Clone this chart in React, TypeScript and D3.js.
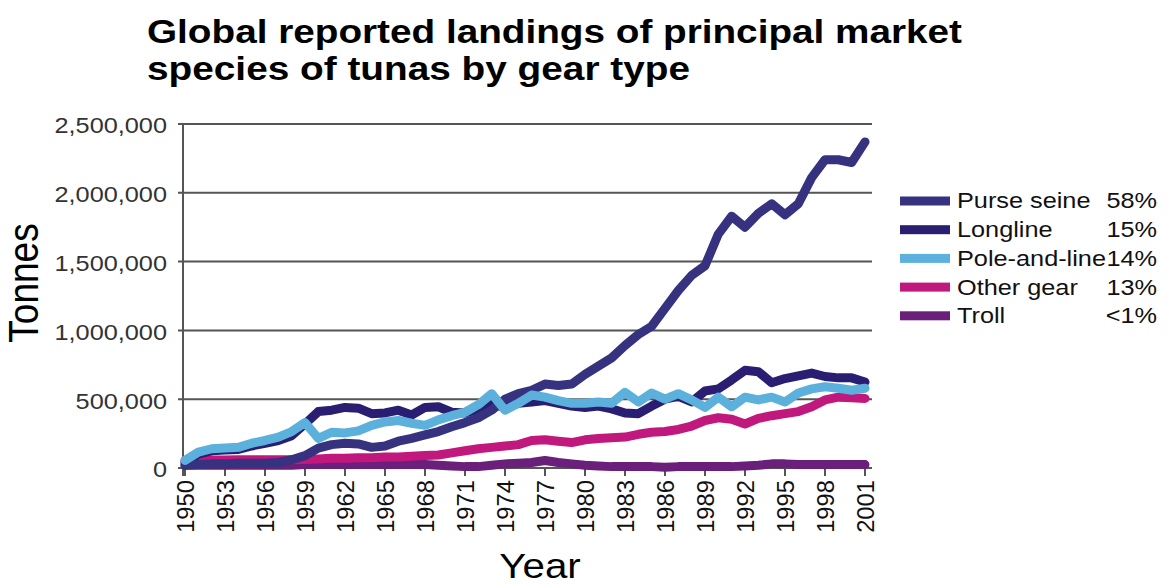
import React from 'react';
import * as d3 from 'd3';

const years = d3.range(1950, 2002);

// thousands of tonnes
const purseSeine = [20, 25, 30, 30, 35, 35, 35, 40, 60, 90, 145, 170, 180, 175, 150, 160, 195, 215, 240, 265, 300, 330, 365, 420, 500, 540, 565, 610, 600, 610, 680, 740, 800, 890, 970, 1030, 1160, 1290, 1400, 1470, 1700, 1830, 1750, 1850, 1920, 1840, 1920, 2110, 2240, 2240, 2220, 2370];
const longline = [40, 100, 125, 130, 135, 160, 180, 200, 235, 320, 410, 420, 440, 435, 395, 400, 420, 385, 440, 445, 405, 400, 425, 465, 440, 470, 480, 490, 470, 450, 440, 450, 430, 400, 395, 450, 500, 520, 480, 560, 575, 640, 710, 700, 620, 650, 670, 690, 665, 655, 655, 625];
const poleAndLine = [55, 115, 140, 145, 150, 180, 200, 225, 265, 330, 215, 260, 255, 270, 310, 335, 345, 325, 310, 350, 380, 405, 460, 540, 420, 470, 530, 515, 490, 470, 470, 480, 470, 550, 480, 545, 500, 540, 495, 440, 515, 445, 515, 495, 515, 480, 545, 575, 590, 580, 565, 580];
const otherGear = [55, 55, 58, 58, 60, 60, 60, 60, 60, 62, 65, 70, 70, 75, 75, 80, 80, 85, 90, 95, 110, 125, 140, 150, 160, 170, 200, 205, 195, 185, 205, 215, 220, 225, 245, 260, 265, 280, 305, 345, 365, 355, 320, 360, 380, 395, 410, 445, 495, 515, 510, 505];
const troll = [20, 20, 20, 20, 20, 20, 20, 20, 20, 25, 25, 25, 25, 25, 25, 25, 25, 25, 25, 20, 15, 10, 10, 20, 30, 35, 40, 55, 40, 30, 20, 15, 10, 10, 10, 10, 5, 10, 10, 10, 10, 10, 15, 20, 30, 30, 25, 25, 25, 25, 25, 25];

const seriesNames = ['Purse seine', 'Longline', 'Pole-and-line', 'Other gear', 'Troll'];
const seriesShares = ['58%', '15%', '14%', '13%', '<1%'];
const seriesColors = ['#37327f', '#2a1e72', '#5cb1dc', '#c1187d', '#6a1f7a'];
const seriesValues = [purseSeine, longline, poleAndLine, otherGear, troll];
const drawOrder = [4, 3, 1, 0, 2];

const yTicks = [0, 500000, 1000000, 1500000, 2000000, 2500000];
const xTicks = d3.range(1950, 2002, 3);

const font = 'Arial, "Liberation Sans", sans-serif';

export default function App() {
  const x = d3.scaleLinear().domain([1950, 2001]).range([185, 865]);
  const y = d3.scaleLinear().domain([0, 2500000]).range([468, 124]);
  const left = 183;
  const right = 872;

  const line = d3.line<number>()
    .x((_, i) => x(years[i]))
    .y(d => y(d * 1000));

  const fmt = d3.format(',');

  return (
    <svg width={1170} height={586} style={{ position: 'absolute', left: 0, top: 0, background: '#fff' }} fontFamily={font}>
      <text x={147} y={43} fontSize={33} fontWeight="bold" textLength={815} lengthAdjust="spacingAndGlyphs" fill="#000">
        Global reported landings of principal market
      </text>
      <text x={147} y={80} fontSize={33} fontWeight="bold" textLength={543} lengthAdjust="spacingAndGlyphs" fill="#000">
        species of tunas by gear type
      </text>

      {yTicks.map(t => (
        <g key={t}>
          <line x1={left - 5} x2={right} y1={y(t)} y2={y(t)} stroke="#555" strokeWidth={2} />
          <text transform={`translate(167,${y(t) + 2}) scale(1.15,1)`} textAnchor="end" dominantBaseline="central" fontSize={22} fill="#333">
            {fmt(t)}
          </text>
        </g>
      ))}
      <line x1={left} x2={left} y1={y(2500000)} y2={y(0) + 8} stroke="#555" strokeWidth={2} />

      {xTicks.map(t => (
        <g key={t}>
          <line x1={x(t)} x2={x(t)} y1={y(0)} y2={y(0) + 8} stroke="#555" strokeWidth={2} />
          <text transform={`translate(${x(t)},${y(0) + 12}) rotate(-90) scale(1.08,1.1)`} textAnchor="end" dominantBaseline="central" fontSize={22} fill="#111">
            {t}
          </text>
        </g>
      ))}

      {drawOrder.map(i => (
        <path key={i} d={line(seriesValues[i]) || ''} fill="none" stroke={seriesColors[i]} strokeWidth={9} strokeLinejoin="round" strokeLinecap="round" />
      ))}

      <text transform="translate(38,283) rotate(-90) scale(1,1.15)" textAnchor="middle" fontSize={37} fill="#000">
        Tonnes
      </text>
      <text transform="translate(540,578) scale(1.12,1)" textAnchor="middle" fontSize={36} fill="#000">
        Year
      </text>

      {seriesNames.map((name, i) => {
        const cy = 201 + i * 28.7;
        return (
          <g key={name}>
            <rect x={900} y={cy - 4.5} width={50} height={9} fill={seriesColors[i]} />
            <text transform={`translate(957,${cy}) scale(1.15,1)`} dominantBaseline="central" fontSize={22} fill="#111">
              {name}
            </text>
            <text transform={`translate(1157,${cy}) scale(1.15,1)`} textAnchor="end" dominantBaseline="central" fontSize={22} fill="#111">
              {seriesShares[i]}
            </text>
          </g>
        );
      })}
    </svg>
  );
}
